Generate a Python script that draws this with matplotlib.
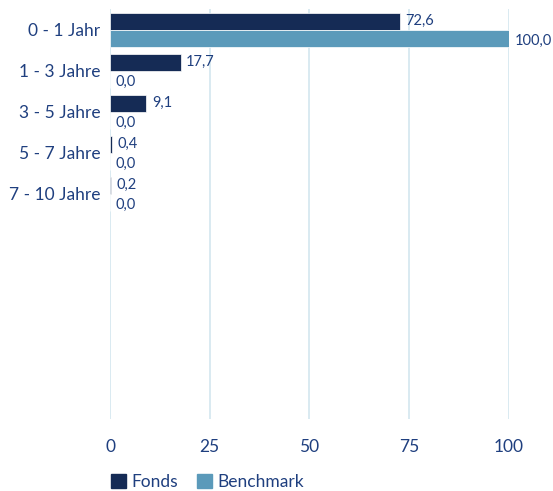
import numpy as np
import matplotlib.pyplot as plt
from matplotlib.patches import Patch

# Daten
kategorien = ["0 - 1 Jahr", "1 - 3 Jahre", "3 - 5 Jahre", "5 - 7 Jahre", "7 - 10 Jahre"]
fonds = [72.6, 17.7, 9.1, 0.4, 0.2]
benchmark = [100.0, 0.0, 0.0, 0.0, 0.0]
x_ticks = [0, 25, 50, 75, 100]

dunkel = "#152b55"
hell = "#5b9aba"
text_farbe = "#1f3f7f"
gitter = "#d3e6ef"

plt.rcParams['font.family'] = ['Lato', 'DejaVu Sans']

fig = plt.figure(figsize=(5.53, 4.91), dpi=100)
ax = fig.add_axes([0.199, 0.146, 0.721, 0.835])

y = np.arange(len(kategorien))
h = 0.42
ax.barh(y - h / 2, fonds, height=h, color=dunkel, edgecolor="white", linewidth=0.5, zorder=3)
ax.barh(y + h / 2, benchmark, height=h, color=hell, edgecolor="white", linewidth=0.5, zorder=3)

# Wertbeschriftungen
for i in range(len(kategorien)):
    ax.annotate(f"{fonds[i]:.1f}".replace(".", ","), (fonds[i], y[i] - h / 2),
                xytext=(4, 0), textcoords="offset points", va="center", ha="left",
                fontsize=10.5, color=text_farbe)
    ax.annotate(f"{benchmark[i]:.1f}".replace(".", ","), (benchmark[i], y[i] + h / 2),
                xytext=(4, -2), textcoords="offset points", va="center", ha="left",
                fontsize=10.5, color=text_farbe)

# 10 Plätze, nur die ersten 5 belegt
ax.set_ylim(9.5, -0.5)
ax.set_xlim(0, 100)
ax.set_yticks(y)
ax.set_yticklabels(kategorien, fontsize=12.5, color=text_farbe)
ax.set_xticks(x_ticks)
ax.set_xticklabels([str(t) for t in x_ticks], fontsize=12.5, color=text_farbe)
ax.tick_params(axis="both", length=0)
ax.tick_params(axis="y", pad=7)
ax.tick_params(axis="x", pad=14)

for s in ax.spines.values():
    s.set_visible(False)
ax.xaxis.grid(True, color=gitter, linewidth=1.2, zorder=0)
ax.set_axisbelow(True)

handles = [Patch(color=dunkel, label="Fonds"), Patch(color=hell, label="Benchmark")]
fig.legend(handles=handles, loc="lower left", bbox_to_anchor=(0.173, -0.03), ncol=2,
           frameon=False, fontsize=12.5, handlelength=0.85, handleheight=0.85,
           handletextpad=0.3, columnspacing=1.1, labelcolor=text_farbe)

fig.savefig("out.png", dpi=100)
